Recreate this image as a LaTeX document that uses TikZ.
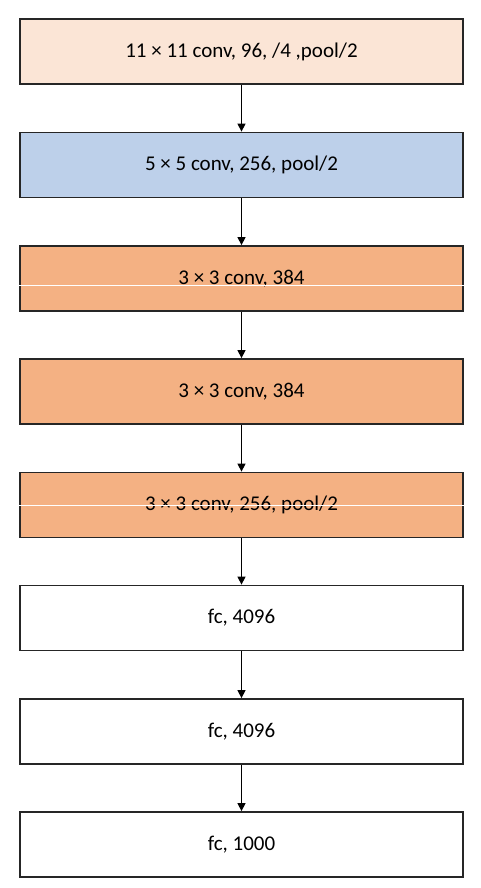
\documentclass[tikz,border=0pt]{standalone}
\usepackage{fontspec}
\setmainfont{Carlito}
\usetikzlibrary{arrows.meta}
\definecolor{peach}{HTML}{FBE5D6}
\definecolor{lblue}{HTML}{BDD0EA}
\definecolor{orng}{HTML}{F4B183}
\definecolor{edge}{HTML}{262626}
\tikzset{
  layer/.style={draw=edge, line width=1.8pt, minimum width=443pt, minimum height=65pt,
    inner sep=0pt, font=\fontsize{21}{25}\selectfont, text=black},
  conn/.style={draw=black, line width=1.4pt, -{Triangle[length=8pt,width=8pt]}},
  glitch/.style={draw=white, line width=0.8pt}
}
\begin{document}
\begin{tikzpicture}[x=1pt,y=-1pt]
\useasboundingbox (0,0) rectangle (480,888);
\node[layer, fill=peach] (b1) at (241.5,51.5) {11 × 11 conv, 96, /4 ,pool/2};
\node[layer, fill=lblue] (b2) at (241.5,165) {5 × 5 conv, 256, pool/2};
\node[layer, fill=orng] (b3) at (241.5,278.5) {3 × 3 conv, 384};
\node[layer, fill=orng] (b4) at (241.5,391.5) {3 × 3 conv, 384};
\node[layer, fill=orng] (b5) at (241.5,505) {3 × 3 conv, 256, pool/2};
\node[layer, fill=white] (b6) at (241.5,618) {fc, 4096};
\node[layer, fill=white] (b7) at (241.5,731.5) {fc, 4096};
\node[layer, fill=white] (b8) at (241.5,844.5) {fc, 1000};
\foreach \a/\b in {b1/b2,b2/b3,b3/b4,b4/b5,b5/b6,b6/b7,b7/b8}
  \draw[conn] (\a.south) -- (\b.north);
\draw[glitch] ([yshift=-6.5pt]b3.west) -- ([yshift=-6.5pt]b3.east);
\draw[glitch] ([yshift=0pt]b5.west) -- ([yshift=0pt]b5.east);
\end{tikzpicture}
\end{document}
